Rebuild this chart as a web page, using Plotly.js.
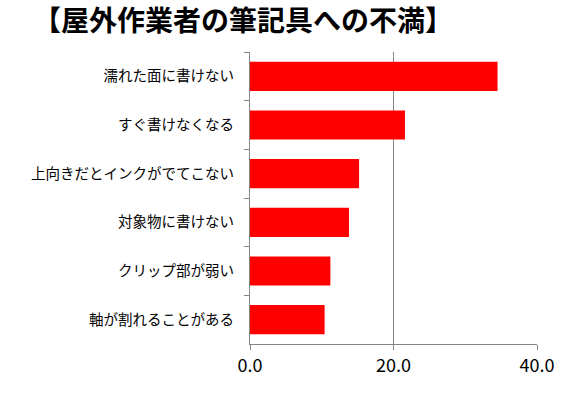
<!DOCTYPE html>
<html><head><meta charset="utf-8">
<script src="https://cdn.plot.ly/plotly-3.0.1.min.js"></script>
<style>html,body{margin:0;padding:0;background:#fff}#chart{width:581px;height:394px}</style>
</head><body><div id="chart"></div>
<script>
const categories = ["濡れた面に書けない","すぐ書けなくなる","上向きだとインクがでてこない","対象物に書けない","クリップ部が弱い","軸が割れることがある"];
const values = [34.5, 21.6, 15.2, 13.8, 11.2, 10.4];
const xTicks = [0, 20, 40];
const xTickLabels = ["0.0", "20.0", "40.0"];
const titleText = "【屋外作業者の筆記具への不満】";

const font = "'Noto Sans CJK JP', 'Noto Sans', sans-serif";
const data = [{
  type: "bar", orientation: "h",
  y: categories, x: values,
  marker: {color: "#FF0000"},
  width: 0.6, hoverinfo: "none"
}];
const layout = {
  width: 581, height: 394,
  margin: {l: 250, r: 44, t: 52, b: 50},
  paper_bgcolor: "#fff", plot_bgcolor: "#fff",
  showlegend: false,
  title: {text: "<b>" + titleText + "</b>", x: 33/581, xanchor: "left", xref: "container",
          y: 1 - 21/394, yanchor: "middle", yref: "container",
          font: {family: font, size: 28, color: "#000"}},
  xaxis: {range: [0, 40], tickvals: xTicks, ticktext: xTickLabels,
          showgrid: true, gridcolor: "#868686", gridwidth: 1,
          showline: true, linecolor: "#868686", linewidth: 1,
          ticks: "outside", ticklen: 5, tickcolor: "#868686",
          zeroline: false, fixedrange: true,
          tickfont: {family: font, size: 18, color: "#000"}},
  yaxis: {categoryorder: "array", categoryarray: categories, autorange: "reversed",
          showline: true, linecolor: "#868686", linewidth: 1,
          ticks: "outside", ticklen: 5, tickcolor: "#868686", tickson: "boundaries",
          showgrid: false, zeroline: false, fixedrange: true,
          ticklabelstandoff: 12,
          tickfont: {family: font, size: 14.5, color: "#000"}}
};
Plotly.newPlot("chart", data, layout, {staticPlot: true});
</script></body></html>
